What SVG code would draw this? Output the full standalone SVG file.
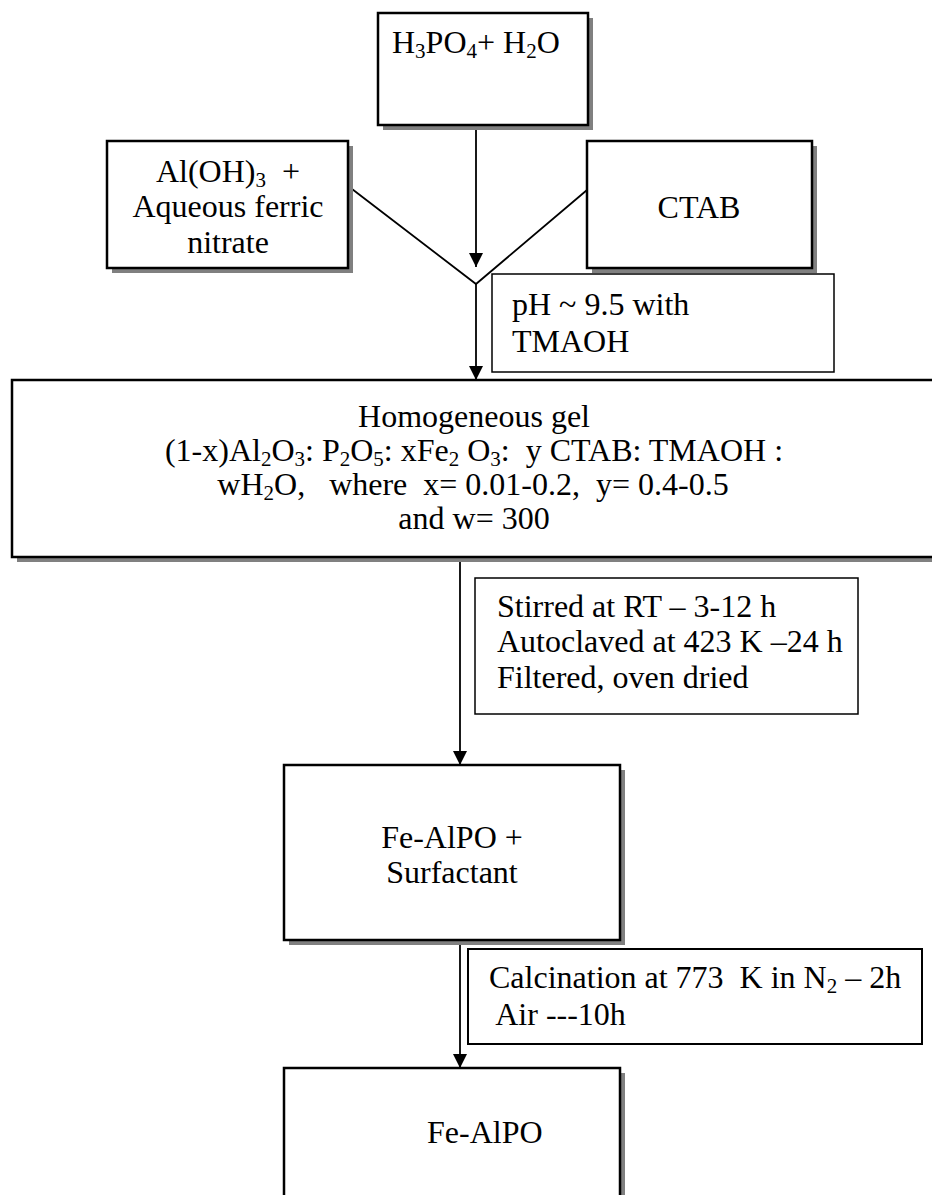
<svg xmlns="http://www.w3.org/2000/svg" width="932" height="1195" viewBox="0 0 932 1195">
<style>
text{font-family:"Liberation Serif","Times New Roman",serif;font-size:32px;fill:#000}
.sub{font-size:21px}
.shadow{fill:#808080}
.box{fill:#fff;stroke:#000;stroke-width:2.5}
.thin{fill:#fff;stroke:#000;stroke-width:1.5}
.med{fill:#fff;stroke:#000;stroke-width:2}
.conn{stroke:#000;stroke-width:1.8;fill:none}
.mid{text-anchor:middle}
</style>
<defs>
<marker id="arr" markerUnits="userSpaceOnUse" markerWidth="14" markerHeight="14" refX="14" refY="7" orient="auto" viewBox="0 0 14 14"><path d="M0,0 L14,7 L0,14 z" fill="#000"/></marker>
</defs>
<rect width="932" height="1195" fill="#fff"/>
<g id="connectors">
<line class="conn" x1="476" y1="126" x2="476" y2="267" marker-end="url(#arr)"/>
<polyline class="conn" points="352,189 476,284 587,190"/>
<line class="conn" x1="476" y1="284" x2="476" y2="380" marker-end="url(#arr)"/>
<line class="conn" x1="460" y1="557" x2="460" y2="765" marker-end="url(#arr)"/>
<line class="conn" x1="460" y1="940" x2="460" y2="1068" marker-end="url(#arr)"/>
</g>
<g id="n1">
<rect class="shadow" x="383" y="18" width="210" height="112"/>
<rect class="box" x="378" y="13" width="210" height="112"/>
<text x="392" y="53">H<tspan class="sub" dy="5">3</tspan><tspan dy="-5">PO</tspan><tspan class="sub" dy="5">4</tspan><tspan dy="-5">+ H</tspan><tspan class="sub" dy="5">2</tspan><tspan dy="-5">O</tspan></text>
</g>
<g id="n2">
<rect class="shadow" x="112" y="146" width="241" height="127"/>
<rect class="box" x="107" y="141" width="241" height="127"/>
<text class="mid" x="228" y="182" xml:space="preserve">Al(OH)<tspan class="sub" dy="5">3</tspan><tspan dy="-5">  +</tspan></text>
<text class="mid" x="228" y="217">Aqueous ferric</text>
<text class="mid" x="228" y="253">nitrate</text>
</g>
<g id="n3">
<rect class="shadow" x="592" y="146" width="225" height="127"/>
<rect class="box" x="587" y="141" width="225" height="127"/>
<text class="mid" x="699" y="218">CTAB</text>
</g>
<g id="n4">
<rect class="thin" x="492" y="274" width="342" height="98"/>
<text x="512" y="315">pH ~ 9.5 with</text>
<text x="512" y="352">TMAOH</text>
</g>
<g id="n5">
<rect class="shadow" x="17" y="385" width="940" height="177"/>
<rect class="box" x="12" y="380" width="940" height="177"/>
<text class="mid" x="474" y="427">Homogeneous gel</text>
<text class="mid" x="474" y="461" xml:space="preserve">(1-x)Al<tspan class="sub" dy="5">2</tspan><tspan dy="-5">O</tspan><tspan class="sub" dy="5">3</tspan><tspan dy="-5">: P</tspan><tspan class="sub" dy="5">2</tspan><tspan dy="-5">O</tspan><tspan class="sub" dy="5">5</tspan><tspan dy="-5">: xFe</tspan><tspan class="sub" dy="5">2</tspan><tspan dy="-5"> O</tspan><tspan class="sub" dy="5">3</tspan><tspan dy="-5">:  y CTAB: TMAOH :</tspan></text>
<text class="mid" x="473" y="495" xml:space="preserve">wH<tspan class="sub" dy="5">2</tspan><tspan dy="-5">O,   where  x= 0.01-0.2,  y= 0.4-0.5</tspan></text>
<text class="mid" x="474" y="529">and w= 300</text>
</g>
<g id="n6">
<rect class="thin" x="475" y="578" width="383" height="136"/>
<text x="497" y="617">Stirred at RT – 3-12 h</text>
<text x="497" y="652">Autoclaved at 423 K –24 h</text>
<text x="497" y="688">Filtered, oven dried</text>
</g>
<g id="n7">
<rect class="shadow" x="289" y="770" width="336" height="175"/>
<rect class="box" x="284" y="765" width="336" height="175"/>
<text class="mid" x="452" y="848">Fe-AlPO +</text>
<text class="mid" x="452" y="883">Surfactant</text>
</g>
<g id="n8">
<rect class="med" x="468" y="949" width="454" height="95"/>
<text x="489" y="988" xml:space="preserve">Calcination at 773  K in N<tspan class="sub" dy="5">2</tspan><tspan dy="-5"> – 2h</tspan></text>
<text x="489" y="1025" xml:space="preserve"> Air ---10h</text>
</g>
<g id="n9">
<rect class="shadow" x="289" y="1073" width="336" height="140"/>
<rect class="box" x="284" y="1068" width="336" height="140"/>
<text x="427" y="1143">Fe-AlPO</text>
</g>
</svg>
